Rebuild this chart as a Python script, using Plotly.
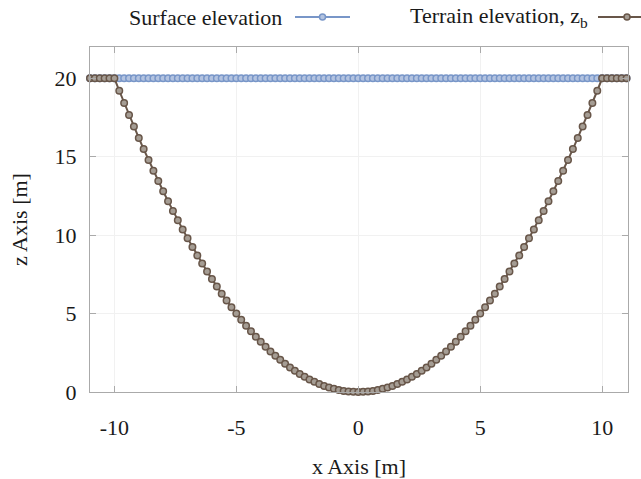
import plotly.graph_objects as go

x_values = [
    -11.0, -10.8, -10.6, -10.4, -10.2, -10.0, -9.8, -9.6, -9.4, -9.2,
    -9.0, -8.8, -8.6, -8.4, -8.2, -8.0, -7.8, -7.6, -7.4, -7.2,
    -7.0, -6.8, -6.6, -6.4, -6.2, -6.0, -5.8, -5.6, -5.4, -5.2,
    -5.0, -4.8, -4.6, -4.4, -4.2, -4.0, -3.8, -3.6, -3.4, -3.2,
    -3.0, -2.8, -2.6, -2.4, -2.2, -2.0, -1.8, -1.6, -1.4, -1.2,
    -1.0, -0.8, -0.6, -0.4, -0.2, 0.0, 0.2, 0.4, 0.6, 0.8,
    1.0, 1.2, 1.4, 1.6, 1.8, 2.0, 2.2, 2.4, 2.6, 2.8,
    3.0, 3.2, 3.4, 3.6, 3.8, 4.0, 4.2, 4.4, 4.6, 4.8,
    5.0, 5.2, 5.4, 5.6, 5.8, 6.0, 6.2, 6.4, 6.6, 6.8,
    7.0, 7.2, 7.4, 7.6, 7.8, 8.0, 8.2, 8.4, 8.6, 8.8,
    9.0, 9.2, 9.4, 9.6, 9.8, 10.0, 10.2, 10.4, 10.6, 10.8,
    11.0,
]

surface_elevation = [
    20, 20, 20, 20, 20, 20, 20, 20, 20, 20,
    20, 20, 20, 20, 20, 20, 20, 20, 20, 20,
    20, 20, 20, 20, 20, 20, 20, 20, 20, 20,
    20, 20, 20, 20, 20, 20, 20, 20, 20, 20,
    20, 20, 20, 20, 20, 20, 20, 20, 20, 20,
    20, 20, 20, 20, 20, 20, 20, 20, 20, 20,
    20, 20, 20, 20, 20, 20, 20, 20, 20, 20,
    20, 20, 20, 20, 20, 20, 20, 20, 20, 20,
    20, 20, 20, 20, 20, 20, 20, 20, 20, 20,
    20, 20, 20, 20, 20, 20, 20, 20, 20, 20,
    20, 20, 20, 20, 20, 20, 20, 20, 20, 20,
    20,
]

terrain_elevation = [
    20.0, 20.0, 20.0, 20.0, 20.0, 20.0, 19.21, 18.43, 17.67, 16.93,
    16.2, 15.49, 14.79, 14.11, 13.45, 12.8, 12.17, 11.55, 10.95, 10.37,
    9.8, 9.25, 8.71, 8.19, 7.69, 7.2, 6.73, 6.27, 5.83, 5.41,
    5.0, 4.61, 4.23, 3.87, 3.53, 3.2, 2.89, 2.59, 2.31, 2.05,
    1.8, 1.57, 1.35, 1.15, 0.97, 0.8, 0.65, 0.51, 0.39, 0.29,
    0.2, 0.13, 0.07, 0.03, 0.01, 0.0, 0.01, 0.03, 0.07, 0.13,
    0.2, 0.29, 0.39, 0.51, 0.65, 0.8, 0.97, 1.15, 1.35, 1.57,
    1.8, 2.05, 2.31, 2.59, 2.89, 3.2, 3.53, 3.87, 4.23, 4.61,
    5.0, 5.41, 5.83, 6.27, 6.73, 7.2, 7.69, 8.19, 8.71, 9.25,
    9.8, 10.37, 10.95, 11.55, 12.17, 12.8, 13.45, 14.11, 14.79, 15.49,
    16.2, 16.93, 17.67, 18.43, 19.21, 20.0, 20.0, 20.0, 20.0, 20.0,
    20.0,
]

x_ticks = [-10, -5, 0, 5, 10]
x_tick_labels = ["-10", "-5", "0", "5", "10"]
y_ticks = [0, 5, 10, 15, 20]
y_tick_labels = ["0", "5", "10", "15", "20"]

series_names = ["Surface elevation", "Terrain elevation, z<sub>b</sub>"]

BLUE = "#7896c8"
BLUE_FILL = "#b3c3e0"
BROWN = "#685649"
BROWN_FILL = "#a59d94"
FONT = "Liberation Serif"
TXT = "#1a1a1a"
FS = 22

fig = go.Figure()
fig.add_trace(go.Scatter(
    x=x_values, y=surface_elevation, mode="lines+markers", name=series_names[0],
    line=dict(color=BLUE, width=2),
    marker=dict(symbol="circle", size=6.5, color=BLUE_FILL, line=dict(color=BLUE, width=1.5)),
    showlegend=False, cliponaxis=False,
))
fig.add_trace(go.Scatter(
    x=x_values, y=terrain_elevation, mode="lines+markers", name=series_names[1],
    line=dict(color=BROWN, width=2),
    marker=dict(symbol="circle", size=6.5, color=BROWN_FILL, line=dict(color=BROWN, width=1.5)),
    showlegend=False, cliponaxis=False,
))

axis_common = dict(
    showline=True, linecolor="#aaaaaa", linewidth=1, mirror="ticks",
    ticks="inside", ticklen=6, tickcolor="#aaaaaa", tickwidth=1,
    showgrid=True, gridcolor="#f1f1f1", gridwidth=1, zeroline=False,
    tickfont=dict(family=FONT, size=FS, color=TXT),
    title_font=dict(family=FONT, size=FS, color=TXT),
    automargin=False,
)

fig.update_xaxes(
    range=[-11, 11.06], tickvals=x_ticks, ticktext=x_tick_labels,
    title_text="x Axis [m]", title_standoff=20, ticklabelstandoff=16,
    **axis_common,
)
fig.update_yaxes(
    range=[0, 22], tickvals=y_ticks, ticktext=y_tick_labels,
    title_text="z Axis [m]", title_standoff=20, ticklabelstandoff=8,
    **axis_common,
)

# manual legend (text before symbol)
L, R, T, B = 90, 628, 47, 392
def px(xp):
    return (xp - L) / (R - L)
def py(yp):
    return (B - yp) / (B - T)

leg_y = 17
legend_items = [
    (series_names[0], 284, 295, 350, BLUE, BLUE_FILL),
    (series_names[1], 590, 598, 660, BROWN, BROWN_FILL),
]
for name, text_right, l0, l1, col, fill in legend_items:
    fig.add_annotation(
        x=px(text_right), y=py(leg_y), xref="paper", yref="paper",
        text=name, showarrow=False, xanchor="right", yanchor="middle",
        font=dict(family=FONT, size=FS, color=TXT),
    )
    fig.add_shape(type="line", xref="paper", yref="paper",
                  x0=px(l0), x1=px(l1), y0=py(leg_y), y1=py(leg_y),
                  line=dict(color=col, width=2))
    cx = (l0 + l1) / 2 if l1 < 641 else 627
    fig.add_shape(type="circle", xref="paper", yref="paper",
                  x0=px(cx - 3), x1=px(cx + 3), y0=py(leg_y + 3), y1=py(leg_y - 3),
                  line=dict(color=col, width=1.5), fillcolor=fill)

fig.update_layout(
    width=641, height=479,
    margin=dict(l=L, r=641 - R, t=T, b=479 - B),
    plot_bgcolor="white", paper_bgcolor="white",
    showlegend=False,
    font=dict(family=FONT, size=FS, color=TXT),
)

fig.write_html("out.html")
